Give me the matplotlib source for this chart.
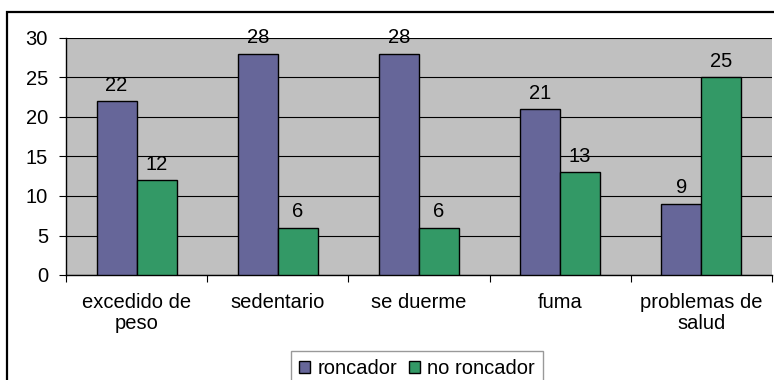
import matplotlib.pyplot as plt
from matplotlib.patches import Rectangle
import numpy as np

plt.rcParams['font.family'] = ['Liberation Sans', 'DejaVu Sans']

# Survey counts per habit
categories = ["excedido de\npeso", "sedentario", "se duerme", "fuma", "problemas de\nsalud"]
roncador = [22, 28, 28, 21, 9]
no_roncador = [12, 6, 6, 13, 25]

FS = 14.5
W, H = 774, 380
fig = plt.figure(figsize=(W / 100, H / 100), dpi=100)

# outer chart frame (extends past the right and bottom edges)
fig.patches.append(Rectangle((7 / W, -0.1), 1.0, (H - 12) / H + 0.1,
                             transform=fig.transFigure, fill=False,
                             edgecolor='black', linewidth=1.6))

ax = fig.add_axes([66 / W, (H - 275) / H, 706 / W, 237 / H])
ax.set_facecolor('#C0C0C0')

x = np.arange(len(categories))
w = 0.283
b1 = ax.bar(x - w / 2, roncador, w, color='#666699', edgecolor='black', linewidth=1, label='roncador', zorder=3)
b2 = ax.bar(x + w / 2, no_roncador, w, color='#339966', edgecolor='black', linewidth=1, label='no roncador', zorder=3)

for bars, vals in ((b1, roncador), (b2, no_roncador)):
    for r, v in zip(bars, vals):
        ax.annotate(str(v), (r.get_x() + r.get_width() / 2, v), xytext=(0, 11.5),
                    textcoords='offset points', ha='center', va='center', fontsize=FS)

ax.set_xlim(-0.5, len(categories) - 0.5)
ax.set_ylim(0, 30)
ax.set_yticks(range(0, 31, 5))
ax.yaxis.grid(True, color='black', linewidth=0.8, zorder=1)
ax.set_axisbelow(True)

ax.set_xticks(x)
ax.set_xticklabels(categories, fontsize=FS, linespacing=1.12)
ax.set_xticks(np.arange(-0.5, len(categories)), minor=True)
ax.tick_params(axis='x', which='major', length=0, pad=13)
ax.tick_params(axis='x', which='minor', length=5, direction='out', width=0.8)
ax.tick_params(axis='y', length=5, direction='out', width=0.8, labelsize=FS, pad=8)

for s in ('top', 'right'):
    ax.spines[s].set_visible(False)
for s in ('left', 'bottom'):
    ax.spines[s].set_linewidth(1)

leg = fig.legend(handles=[b1, b2], loc='upper left', bbox_to_anchor=(291 / W, (H - 351) / H),
                 ncol=2, fontsize=FS, frameon=True, fancybox=False, handlelength=0.55,
                 handleheight=0.55, handletextpad=0.35, columnspacing=0.6, borderpad=0.4,
                 borderaxespad=0)
leg.get_frame().set_edgecolor('#808080')
leg.get_frame().set_linewidth(1)

fig.savefig('out.png', dpi=100)
